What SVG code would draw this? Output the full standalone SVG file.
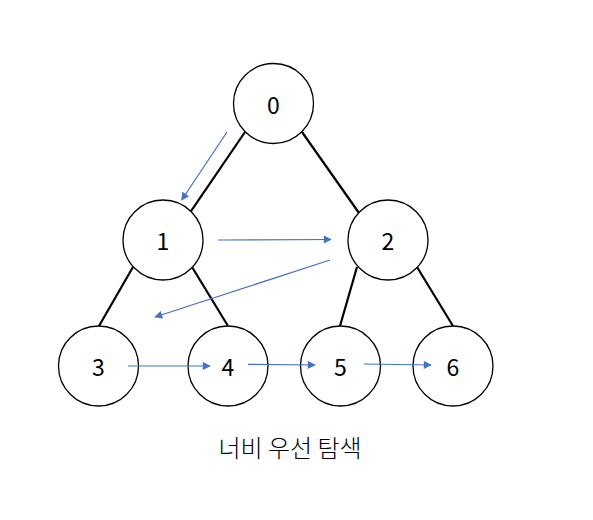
<svg xmlns="http://www.w3.org/2000/svg" width="593" height="520" viewBox="0 0 593 520">
<style>
.node circle{fill:#fff;stroke:#000;stroke-width:1.3}
.node text{font-family:"Noto Sans CJK KR","Noto Sans",sans-serif;font-size:23px;text-anchor:middle;dominant-baseline:central;fill:#000}
.edge{stroke:#000;stroke-width:2.2;fill:none}
.arr{stroke:#4472C4;stroke-width:1.2;fill:none;marker-end:url(#ah)}
.cap{font-family:"Noto Sans CJK KR",sans-serif;font-size:24px;font-weight:300;text-anchor:middle;fill:#000}
</style>
<defs>
<marker id="ah" viewBox="0 0 10 10" refX="9" refY="5" markerWidth="10" markerHeight="8" markerUnits="userSpaceOnUse" orient="auto">
<path d="M0,0 L10,5 L0,10 z" fill="#4472C4"/>
</marker>
</defs>
<rect width="593" height="520" fill="#fff"/>
<g id="connectors">
<line class="edge" x1="245" y1="132" x2="190.7" y2="211.7"/>
<line class="edge" x1="302" y1="132" x2="359" y2="213"/>
<line class="edge" x1="133" y1="267" x2="99" y2="326"/>
<line class="edge" x1="192" y1="267" x2="228" y2="326"/>
<line class="edge" x1="357" y1="267" x2="340" y2="326"/>
<line class="edge" x1="417" y1="267" x2="453" y2="326"/>
</g>
<g id="node0" class="node"><circle cx="273.5" cy="103.5" r="40"/><text x="273.5" y="103.5">0</text></g>
<g id="node1" class="node"><circle cx="163" cy="240" r="40"/><text x="163" y="240">1</text></g>
<g id="node2" class="node"><circle cx="388" cy="240" r="40"/><text x="388" y="240">2</text></g>
<g id="node3" class="node"><circle cx="98.5" cy="366" r="40"/><text x="98.5" y="366">3</text></g>
<g id="node4" class="node"><circle cx="228" cy="366" r="40"/><text x="228" y="366">4</text></g>
<g id="node5" class="node"><circle cx="340.5" cy="366" r="40"/><text x="340.5" y="366">5</text></g>
<g id="node6" class="node"><circle cx="453" cy="366" r="40"/><text x="453" y="366">6</text></g>
<g id="traversal">
<line class="arr" x1="227" y1="132" x2="181.7" y2="200"/>
<line class="arr" x1="218" y1="240" x2="331" y2="239.5"/>
<line class="arr" x1="330" y1="260" x2="155" y2="317"/>
<line class="arr" x1="128" y1="366" x2="210" y2="366"/>
<line class="arr" x1="248" y1="364.3" x2="315" y2="365"/>
<line class="arr" x1="364" y1="364" x2="431" y2="365"/>
</g>
<text class="cap" x="290" y="457">너비 우선 탐색</text>
</svg>
